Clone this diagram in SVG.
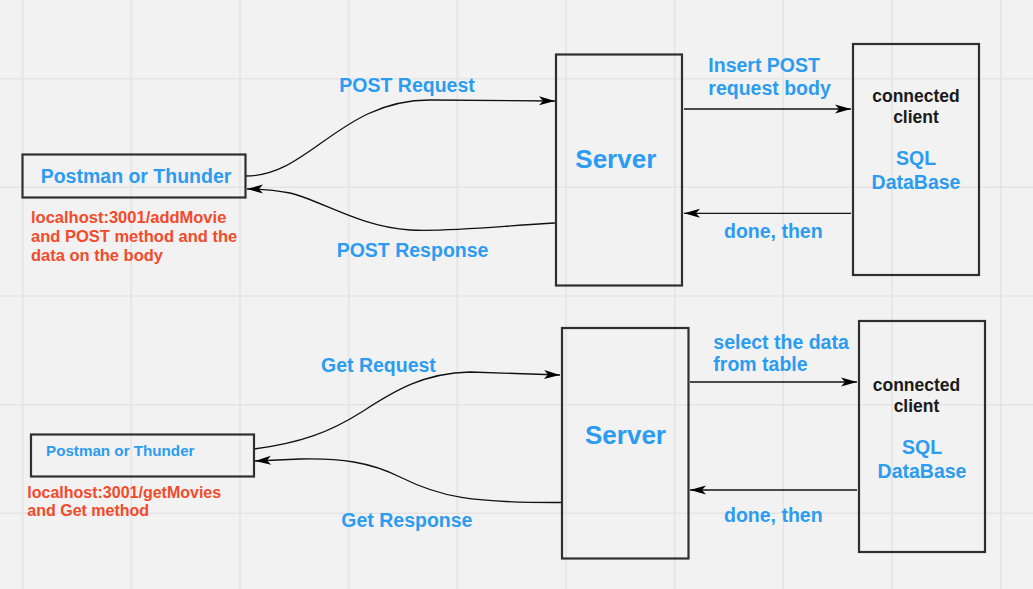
<svg xmlns="http://www.w3.org/2000/svg" width="1033" height="589" viewBox="0 0 1033 589">
<style>
.grid line{stroke:#e4e4e4;stroke-width:1.6}
.box{fill:none;stroke:#2f2f2f;stroke-width:2.2}
.t{font-family:"Liberation Sans",Arial,sans-serif;font-weight:bold}
.blue{fill:#2c9cf0}
.red{fill:#f24a2b}
.dark{fill:#1a1a1a}
.conn path{fill:none;stroke:#111;stroke-width:1.3}
</style>
<defs>
<marker id="arr" markerUnits="userSpaceOnUse" markerWidth="20" markerHeight="12" viewBox="-17 -6 18 12" refX="0" refY="0" orient="auto">
<path d="M0,0 L-16,-4.5 L-12,0 L-16,4.5 Z" fill="#000"/>
</marker>
</defs>
<rect width="1033" height="589" fill="#f2f2f2"/>
<g class="grid">
<line x1="22.7" y1="0" x2="22.7" y2="589"/>
<line x1="131.3" y1="0" x2="131.3" y2="589"/>
<line x1="240" y1="0" x2="240" y2="589"/>
<line x1="348.7" y1="0" x2="348.7" y2="589"/>
<line x1="457.3" y1="0" x2="457.3" y2="589"/>
<line x1="566" y1="0" x2="566" y2="589"/>
<line x1="674.7" y1="0" x2="674.7" y2="589"/>
<line x1="783.3" y1="0" x2="783.3" y2="589"/>
<line x1="892" y1="0" x2="892" y2="589"/>
<line x1="1000.7" y1="0" x2="1000.7" y2="589"/>
<line x1="0" y1="78.7" x2="1033" y2="78.7"/>
<line x1="0" y1="187.3" x2="1033" y2="187.3"/>
<line x1="0" y1="296" x2="1033" y2="296"/>
<line x1="0" y1="404.7" x2="1033" y2="404.7"/>
<line x1="0" y1="513.3" x2="1033" y2="513.3"/>
</g>
<g class="conn" id="connectors">
<path d="M246 176 C310 176 340 100 430 100 L555 101" marker-end="url(#arr)"/>
<path d="M684 109 L851 109" marker-end="url(#arr)"/>
<path d="M851 213.3 L684 213.3" marker-end="url(#arr)"/>
<path d="M555 223 C500 226 450 232 410 230 C360 227 320 200 290 193 C275 190 262 189 247 189" marker-end="url(#arr)"/>
<path d="M254 449 C300 443 330 432 360 413 S420 373 470 372 L560 375" marker-end="url(#arr)"/>
<path d="M690 382 L857 382" marker-end="url(#arr)"/>
<path d="M857 490 L690 490" marker-end="url(#arr)"/>
<path d="M562 502.5 C470 503 440 497 400 477 C370 462 340 458 300 459 L255 461" marker-end="url(#arr)"/>
</g>
<g id="edge-labels">
<text class="t blue" x="339.3" y="91.7" font-size="19.5">POST Request</text>
<text class="t blue" x="336.7" y="256.7" font-size="19.5">POST Response</text>
<text class="t blue" x="708.3" y="71.7" font-size="19.5">Insert POST</text>
<text class="t blue" x="708.3" y="95" font-size="19.5">request body</text>
<text class="t blue" x="724" y="237.7" font-size="19.5">done, then</text>
<text class="t blue" x="321" y="372" font-size="19.5">Get Request</text>
<text class="t blue" x="341.3" y="526.7" font-size="19.5">Get Response</text>
<text class="t blue" x="713.3" y="349" font-size="19.5">select the data</text>
<text class="t blue" x="713.3" y="370.7" font-size="19.5">from table</text>
<text class="t blue" x="724" y="521.7" font-size="19.5">done, then</text>
</g>
<g id="client-post">
<rect class="box" x="22.5" y="154.5" width="223" height="43"/>
<text class="t blue" x="40.7" y="182.7" font-size="19.5">Postman or Thunder</text>
<text class="t red" x="31" y="222.7" font-size="16.5">localhost:3001/addMovie</text>
<text class="t red" x="31" y="241.7" font-size="16.5">and POST method and the</text>
<text class="t red" x="31" y="260.7" font-size="16.5">data on the body</text>
</g>
<g id="server-post">
<rect class="box" x="556" y="54.5" width="126" height="231"/>
<text class="t blue" x="575.3" y="168.3" font-size="26">Server</text>
</g>
<g id="db-post">
<rect class="box" x="853" y="44" width="126" height="231"/>
<text class="t dark" x="916" y="101.7" font-size="17.5" text-anchor="middle">connected</text>
<text class="t dark" x="916" y="122.7" font-size="17.5" text-anchor="middle">client</text>
<text class="t blue" x="916" y="165" font-size="19.5" text-anchor="middle">SQL</text>
<text class="t blue" x="916" y="188.7" font-size="19.5" text-anchor="middle">DataBase</text>
</g>
<g id="client-get">
<rect class="box" x="31" y="434.5" width="223" height="42"/>
<text class="t blue" x="46" y="456" font-size="15.2">Postman or Thunder</text>
<text class="t red" x="27.3" y="497.7" font-size="16">localhost:3001/getMovies</text>
<text class="t red" x="27.3" y="515.7" font-size="16">and Get method</text>
</g>
<g id="server-get">
<rect class="box" x="562" y="328" width="126.5" height="230.5"/>
<text class="t blue" x="585" y="444.3" font-size="26">Server</text>
</g>
<g id="db-get">
<rect class="box" x="859" y="321" width="126" height="231"/>
<text class="t dark" x="916.5" y="390.7" font-size="17.5" text-anchor="middle">connected</text>
<text class="t dark" x="916.5" y="411.7" font-size="17.5" text-anchor="middle">client</text>
<text class="t blue" x="922" y="454" font-size="19.5" text-anchor="middle">SQL</text>
<text class="t blue" x="922" y="477.7" font-size="19.5" text-anchor="middle">DataBase</text>
</g>
</svg>
